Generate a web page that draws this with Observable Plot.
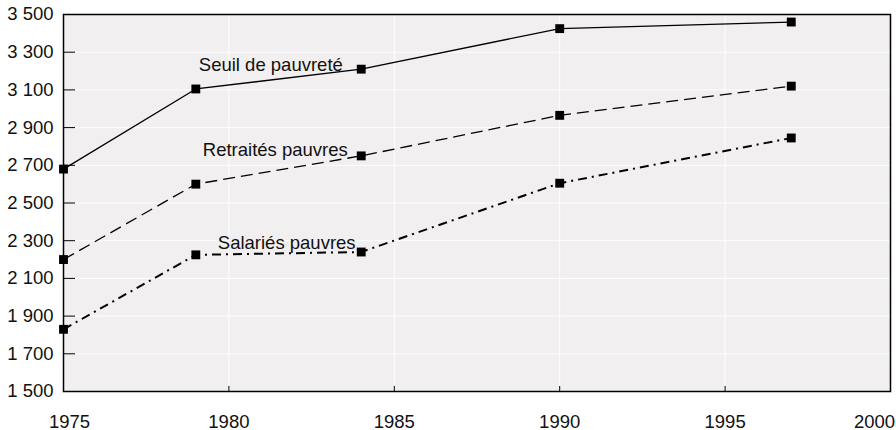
<!DOCTYPE html>
<html>
<head>
<meta charset="utf-8">
<script src="https://cdn.jsdelivr.net/npm/d3@7"></script>
<script src="https://cdn.jsdelivr.net/npm/@observablehq/plot@0.6"></script>
<style>
  html, body { margin: 0; padding: 0; background: #fff; }
  #chart svg { display: block; }
</style>
</head>
<body>
<div id="chart"></div>
<script>
// ---- data ----
const years = [1975, 1979, 1984, 1990, 1997];
const seuil = [2680, 3105, 3210, 3425, 3460];
const retraites = [2200, 2600, 2750, 2965, 3120];
const salaries = [1830, 2225, 2240, 2605, 2845];
const seriesNames = ["Seuil de pauvreté", "Retraités pauvres", "Salariés pauvres"];
const yTicks = [1500, 1700, 1900, 2100, 2300, 2500, 2700, 2900, 3100, 3300, 3500];
const xTicks = [1975, 1980, 1985, 1990, 1995, 2000];
const labelYear = 1979;

// ---- build table ----
const seriesValues = [seuil, retraites, salaries];
const rows = seriesNames.flatMap((name, i) =>
  years.map((yr, j) => ({series: name, year: yr, value: seriesValues[i][j]}))
);
const labelRows = rows.filter(d => d.year === labelYear);

// ---- layout / style ----
const W = 896, H = 430;
const mL = 63, mR = 6, mT = 14, mB = 39;
const plotW = W - mL - mR, plotH = H - mT - mB;
const font = "'Liberation Sans', Arial, sans-serif";
const fs = 18.5;
const fr = d3.formatLocale({thousands: " ", grouping: [3], decimal: ","}).format(",d");

const styles = {
  "Seuil de pauvreté": {strokeWidth: 1.3, dash: null, dx: 3, dy: -24},
  "Retraités pauvres": {strokeWidth: 1.3, dash: "12,6", dx: 7, dy: -34},
  "Salariés pauvres": {strokeWidth: 2, dash: "9,5,2,5", dx: 22, dy: -12}
};

const xLab = {tickSize: 0, tickPadding: 23, tickFormat: d => String(d), fontSize: fs, fill: "#111", label: null};

const marks = [
  Plot.frame({fill: "#f1eff0", stroke: null}),
  Plot.gridY(yTicks, {stroke: "#fff", strokeOpacity: 1, strokeWidth: 1}),
  Plot.gridX(xTicks.slice(1, -1), {stroke: "#fff", strokeOpacity: 1, strokeWidth: 1}),
  // inward ticks
  Plot.tickY(yTicks, {y: d => d, stroke: "#000", strokeWidth: 1, insetRight: plotW - 12}),
  Plot.tickX(xTicks, {x: d => d, stroke: "#000", strokeWidth: 1, insetTop: plotH - 5}),
  // axes labels
  Plot.axisY(yTicks, {tickSize: 0, tickPadding: 10, tickFormat: fr, fontSize: fs, fill: "#111", label: null}),
  Plot.axisX(xTicks.slice(1, -1), {...xLab}),
  Plot.axisX(xTicks.slice(0, 1), {...xLab, dx: 6}),
  Plot.axisX(xTicks.slice(-1), {...xLab, dx: -16})
];

for (const name of seriesNames) {
  const s = styles[name];
  const data = rows.filter(d => d.series === name);
  marks.push(Plot.line(data, {
    x: "year", y: "value", stroke: "#000", strokeWidth: s.strokeWidth,
    strokeDasharray: s.dash, strokeLinecap: "butt"
  }));
  marks.push(Plot.dot(data, {
    x: "year", y: "value", symbol: "square", r: 5, fill: "#000", stroke: null
  }));
  marks.push(Plot.text(labelRows.filter(d => d.series === name), {
    x: "year", y: "value", text: "series", textAnchor: "start",
    dx: s.dx, dy: s.dy, fontSize: fs, fill: "#111"
  }));
}

marks.push(Plot.frame({stroke: "#000", strokeWidth: 1.5}));

const chart = Plot.plot({
  width: W, height: H,
  marginLeft: mL, marginRight: mR, marginTop: mT, marginBottom: mB,
  style: {fontFamily: font, background: "#fff", overflow: "visible"},
  x: {domain: [1975, 2000], axis: null},
  y: {domain: [1500, 3500], axis: null},
  marks
});
document.getElementById("chart").appendChild(chart);
</script>
</body>
</html>
